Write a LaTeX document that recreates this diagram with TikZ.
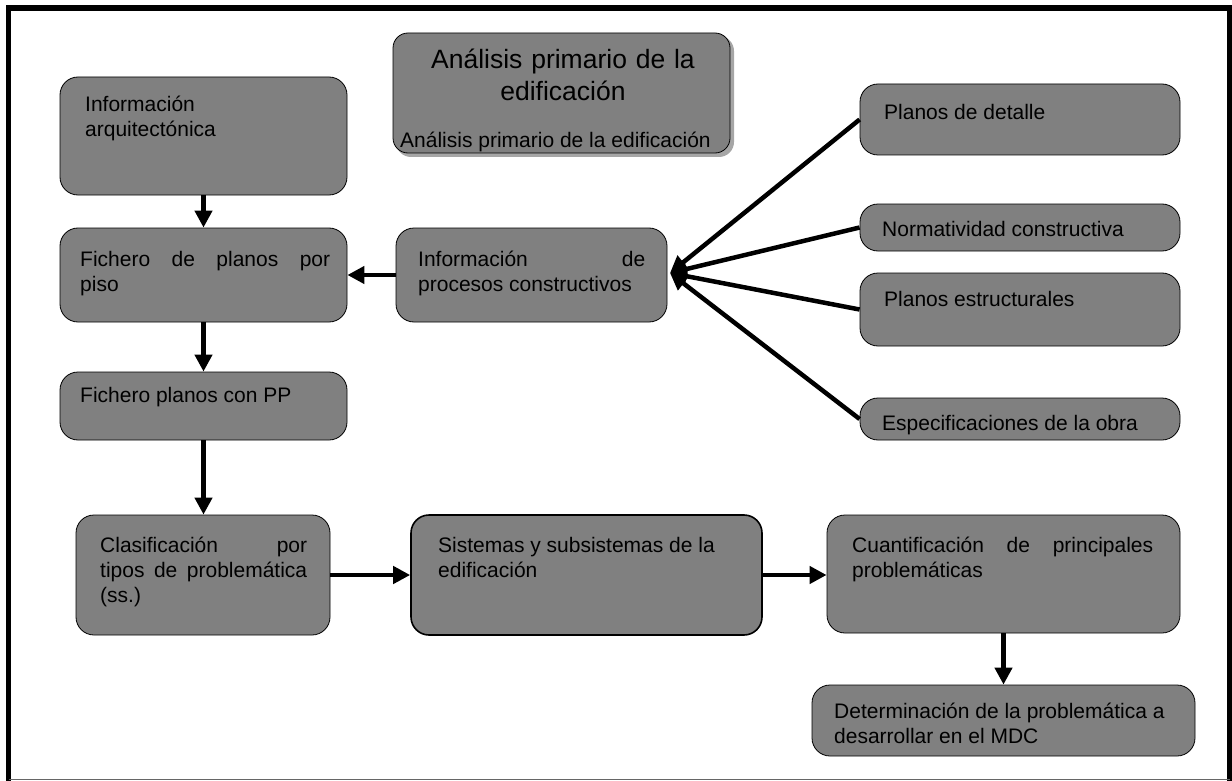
\documentclass[tikz,border=0pt]{standalone}
\usepackage{fontspec}
\setmainfont{Liberation Sans}
\usetikzlibrary{arrows.meta}
\definecolor{grisbox}{RGB}{128,128,128}

\begin{document}
\begin{tikzpicture}[x=1pt,y=-1pt,
  caja/.style={draw=black, line width=0.8pt, fill=grisbox, rounded corners=18pt, inner sep=0pt},
  texto/.style={anchor=base west, inner sep=0pt, text width=#1, align=justify, font=\fontsize{21}{25}\selectfont},
  texto/.default=300pt,
  flecha/.style={line width=4.5pt, -{Triangle[length=17pt,width=17pt]}}]
\useasboundingbox (0,0) rectangle (1232,781);

% marco
\draw[line width=5.5pt] (8.5,781) -- (8.5,8) -- (1230,8) -- (1230,781);
\draw[line width=1pt, black!60] (8.5,779) -- (1230,779);

% titulo
\fill[black!35, rounded corners=15pt] (396,36) rectangle (734,157);
\node[caja, rounded corners=15pt, minimum width=337pt, minimum height=120pt] (titulo) at (561.5,93) {};
\node[anchor=base, inner sep=0pt, text width=330pt, align=center, font=\fontsize{26.5}{32}\selectfont] (titulo-t) at (563,69) {Análisis primario de la\\edificación};
\node[texto=330pt] (titulo-s) at (400,148) {Análisis primario de la edificación};

% cajas
\node[caja, minimum width=287pt, minimum height=118pt] (arq) at (203.5,136) {};
\node[caja, minimum width=287pt, minimum height=94pt] (piso) at (203.5,275) {};
\node[caja, minimum width=271pt, minimum height=94pt] (procesos) at (531.5,275) {};
\node[caja, minimum width=320pt, minimum height=71pt] (detalle) at (1020,119.5) {};
\node[caja, minimum width=320pt, minimum height=47pt] (norma) at (1020,227.5) {};
\node[caja, minimum width=320pt, minimum height=73pt] (estruct) at (1020,309.5) {};
\node[caja, minimum width=320pt, minimum height=42pt] (especif) at (1020,419) {};
\node[caja, minimum width=287pt, minimum height=68pt] (pp) at (203.5,406) {};
\node[caja, minimum width=254pt, minimum height=120pt] (clasif) at (203,575) {};
\node[caja, line width=1.6pt, minimum width=351pt, minimum height=120pt] (sistemas) at (586.5,575) {};
\node[caja, minimum width=353pt, minimum height=118pt] (cuantif) at (1003.5,574) {};
\node[caja, minimum width=383pt, minimum height=71pt] (determ) at (1003.5,720.5) {};

% textos
\node[texto=260pt] (arq-t) at (85,112) {Información\\arquitectónica};
\node[texto=250pt] (piso-t) at (80,266) {Fichero de planos por\linebreak piso};
\node[texto=227pt] (procesos-t) at (418,266) {Información de\linebreak procesos constructivos};
\node[texto] (detalle-t) at (884,120) {Planos de detalle};
\node[texto] (norma-t) at (882,236) {Normatividad constructiva};
\node[texto] (estruct-t) at (884,306) {Planos estructurales};
\node[texto] (especif-t) at (882,430) {Especificaciones de la obra};
\node[texto=260pt] (pp-t) at (80,402) {Fichero planos con PP};
\node[texto=207pt] (clasif-t) at (100,552) {Clasificación por\linebreak tipos de problemática\linebreak (ss.)};
\node[texto=320pt] (sistemas-t) at (438,552) {Sistemas y subsistemas de la\\edificación};
\node[texto=301pt] (cuantif-t) at (852,552) {Cuantificación de principales\linebreak problemáticas};
\node[texto=360pt] (determ-t) at (834,718) {Determinación de la problemática a\\desarrollar en el MDC};

% flechas
\coordinate (punta) at (670,273);
\draw[flecha] (arq) -- (piso);
\draw[flecha] (piso) -- (pp);
\draw[flecha] (pp.south) -- (pp.south |- clasif.north);
\draw[flecha] (procesos.west) -- (piso.east);
\draw[flecha] (clasif) -- (sistemas);
\draw[flecha] (sistemas.east) -- (sistemas.east -| cuantif.west);
\draw[flecha] (cuantif) -- (determ);
\foreach \n in {detalle,norma,estruct,especif}
  \draw[flecha] (\n.west) -- (punta);
\end{tikzpicture}
\end{document}
